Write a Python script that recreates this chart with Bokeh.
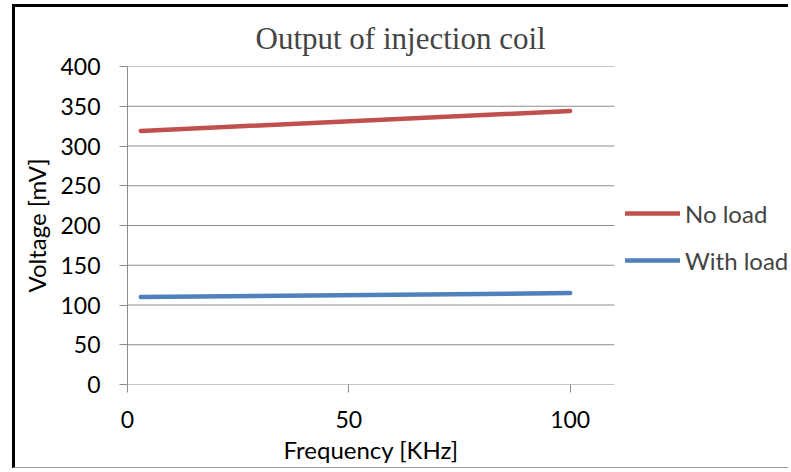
from bokeh.plotting import figure
from bokeh.models import Legend, LegendItem, FixedTicker, Range1d, Title
from bokeh.embed import file_html
from bokeh.resources import INLINE

# Data
freq = [3, 100]
no_load = [319, 344]
with_load = [110, 115]
x_ticks = [0, 50, 100]
y_ticks = [0, 50, 100, 150, 200, 250, 300, 350, 400]
x_axis_max = 110

GRID = "#8c8c8c"
SANS = "Lato"

# frame extends to the right edge so the legend (inside the frame) is not clipped;
# the visible axis area covers 0..110
p = figure(width=776, height=464,
           x_range=Range1d(0, 150), y_range=Range1d(0, 400),
           output_backend="svg", toolbar_location=None,
           min_border_left=112, min_border_right=0,
           min_border_top=59, min_border_bottom=87)
p.styles = {"margin-left": "12px", "margin-top": "4px",
            "border-left": "3px solid black", "border-top": "3px solid black",
            "border-bottom": "1px solid #999999"}

p.background_fill_color = "white"
p.border_fill_color = "white"
p.outline_line_color = None

# title
p.title.text = "Output of injection coil"
p.title.text_font = "Liberation Serif"
p.title.text_font_size = "31px"
p.title.text_font_style = "normal"
p.title.align = "left"
p.title.offset = 128
p.title.standoff = 22

# grid (drawn only across the axis area)
p.xgrid.visible = False
p.ygrid.visible = False
p.segment(x0=[0] * len(y_ticks), y0=y_ticks,
          x1=[x_axis_max] * len(y_ticks), y1=y_ticks,
          line_color=GRID, line_width=1)

# axes
for ax in (p.xaxis[0], p.yaxis[0]):
    ax.axis_line_color = GRID
    ax.major_tick_line_color = GRID
    ax.major_tick_out = 8
    ax.major_tick_in = 0
    ax.minor_tick_line_color = None
    ax.major_label_text_font = SANS
    ax.major_label_text_font_size = "23px"
    ax.major_label_text_color = "black"
    ax.axis_label_text_font = SANS
    ax.axis_label_text_font_size = "24px"
    ax.axis_label_text_font_style = "normal"
    ax.axis_label_text_color = "black"
p.xaxis.axis_line_color = None

p.xaxis.ticker = FixedTicker(ticks=x_ticks)
p.yaxis.ticker = FixedTicker(ticks=y_ticks)
p.yaxis.axis_label = "Voltage [mV]"
p.yaxis.major_label_standoff = 19
p.xaxis.major_label_standoff = 18
p.yaxis.axis_label_standoff = 6

# x-axis title placed under the axis area (0..110)
xtitle = Title(text="Frequency [KHz]", align="left", offset=156, standoff=5,
               text_font=SANS, text_font_size="24px", text_font_style="normal",
               text_color="black")
p.add_layout(xtitle, "below")

r1 = p.line(freq, no_load, line_color="#C0504D", line_width=4.5, line_cap="round")
r2 = p.line(freq, with_load, line_color="#4F81BD", line_width=4.5, line_cap="round")

legend = Legend(items=[LegendItem(label="No load", renderers=[r1]),
                       LegendItem(label="With load", renderers=[r2])],
                location=(498, 109), orientation="vertical",
                border_line_color=None, background_fill_alpha=0,
                padding=0, margin=0, spacing=17,
                glyph_width=55, glyph_height=30, label_height=30,
                label_standoff=5, label_text_font=SANS,
                label_text_font_size="24px")
p.add_layout(legend, "center")

open("out.html", "w").write(file_html(p, INLINE))
